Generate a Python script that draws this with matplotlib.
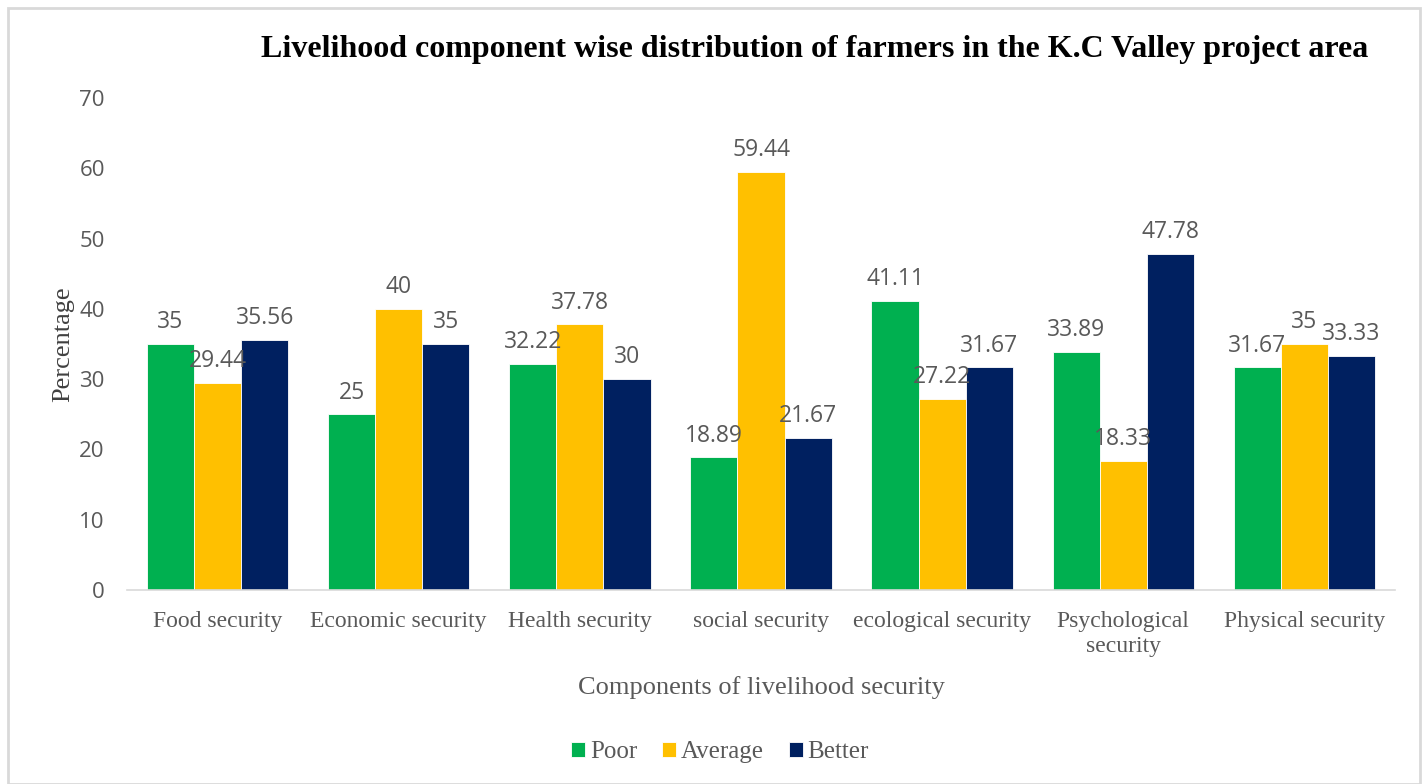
import numpy as np
import matplotlib.pyplot as plt
from matplotlib.patches import Rectangle

categories = ["Food security", "Economic security", "Health security", "social security",
              "ecological security", "Psychological\nsecurity", "Physical security"]
poor = [35, 25, 32.22, 18.89, 41.11, 33.89, 31.67]
average = [29.44, 40, 37.78, 59.44, 27.22, 18.33, 35]
better = [35.56, 35, 30, 21.67, 31.67, 47.78, 33.33]

series = [("Poor", poor, "#00B050"), ("Average", average, "#FFC000"), ("Better", better, "#002060")]

serif = ["Liberation Serif", "DejaVu Serif"]
sans = ["Open Sans", "DejaVu Sans"]
gray = "#595959"

fig = plt.figure(figsize=(14.28, 7.84), dpi=100)
fig.patches.append(Rectangle((8 / 1428, 0), 1412 / 1428, 776 / 784, transform=fig.transFigure,
                             fill=False, edgecolor="#D9D9D9", linewidth=2))
ax = fig.add_axes([127 / 1428, 1 - 590 / 784, 1268 / 1428, 492 / 784])

x = np.arange(len(categories))
width = 0.26
for i, (name, vals, color) in enumerate(series):
    pos = x + (i - 1) * width
    ax.bar(pos, vals, width, color=color, label=name, edgecolor="white", linewidth=0.6)
    for xb, v in zip(pos, vals):
        ax.annotate(f"{v:g}", (xb, v), xytext=(0, 7), textcoords="offset points",
                    ha="center", va="bottom", fontsize=16.5, color=gray, family=sans)

ax.set_xlim(-0.5, len(categories) - 0.5)
ax.set_ylim(0, 70)
ax.set_yticks(range(0, 71, 10))
for s in ["top", "right", "left"]:
    ax.spines[s].set_visible(False)
ax.spines["bottom"].set_color("#D9D9D9")
ax.spines["bottom"].set_linewidth(1.2)
ax.tick_params(axis="both", length=0)
ax.tick_params(axis="y", pad=16)
ax.tick_params(axis="x", pad=15)
ax.set_xticks(x)
ax.set_xticklabels(categories, fontsize=17, color=gray, family=serif, linespacing=1.25)
for lab in ax.get_yticklabels():
    lab.set_fontsize(16)
    lab.set_color(gray)
    lab.set_family(sans)
ax.set_xlabel("Components of livelihood security", fontsize=19, color=gray, family=serif, labelpad=14)
ax.set_ylabel("Percentage", fontsize=19, color="#404040", family=serif, labelpad=4)

fig.text(815 / 1428, 1 - 50 / 784, "Livelihood component wise distribution of farmers in the K.C Valley project area",
         ha="center", va="center", fontsize=23, fontweight="bold", family=serif, color="black")

fig.legend(loc="center", bbox_to_anchor=(720 / 1428, 1 - 752 / 784), ncol=3, frameon=False,
           prop={"family": serif, "size": 18}, labelcolor=gray, handlelength=0.55, handleheight=0.55,
           handletextpad=0.2, columnspacing=1.0)

fig.savefig("out.png", dpi=100)
